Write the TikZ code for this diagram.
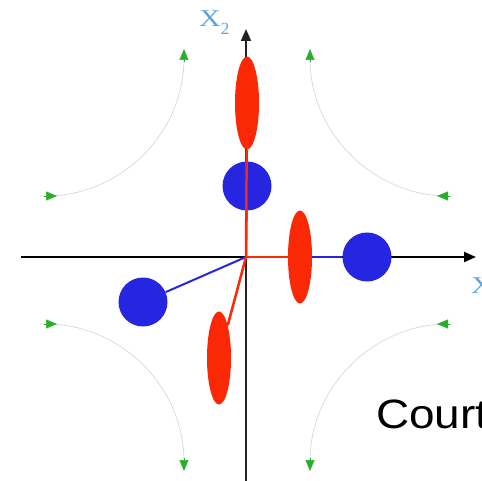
\documentclass[tikz,border=0pt]{standalone}
\usepackage{fontspec}
\newfontfamily\arialf{Liberation Sans}
\newfontfamily\timesf{Liberation Serif}
\usetikzlibrary{shapes.geometric,arrows.meta}
\definecolor{dotblue}{RGB}{38,38,226}
\definecolor{ellred}{RGB}{250,40,5}
\definecolor{flowgreen}{RGB}{40,175,45}
\definecolor{flowline}{RGB}{212,224,212}
\definecolor{labelblue}{RGB}{90,165,225}
\definecolor{axisgray}{RGB}{35,35,35}
\begin{document}
\begin{tikzpicture}[x=1pt,y=-1pt,
  bdot/.style={circle,fill=dotblue,draw=none,minimum size=49pt,inner sep=0pt},
  rell/.style={ellipse,fill=ellred,draw=none,minimum width=24pt,minimum height=93pt,inner sep=0pt},
  axisline/.style={line width=2pt,-{Triangle[length=12pt,width=10pt]}},
  flow/.style={flowline,line width=0.8pt},
  ftip/.style={flowgreen,line width=0.5pt,-{Triangle[length=11pt,width=9pt]}},
  bline/.style={dotblue,line width=2pt},
  rline/.style={ellred,line width=2.5pt},
  axlabel/.style={anchor=base west,inner sep=0pt,text=labelblue,font=\timesf\fontsize{24}{24}\selectfont}]
\useasboundingbox (0,0) rectangle (482,481);
\clip (0,0) rectangle (482,481);
% axes
\coordinate (O) at (246,257);
\coordinate (xs) at (21,257);
\coordinate (xe) at (476,257);
\coordinate (ys) at (246,482);
\coordinate (ye) at (246,29);
\draw[axisline,black] (xs) -- (xe);
\draw[axisline,axisgray] (ys) -- (ye);
% flow lines
\foreach \sx/\sy in {-1/-1,1/-1,-1/1,1/1}{
  \draw[flow] ({247+\sx*207},{260+\sy*64}) -- ({247+\sx*197},{260+\sy*64})
    .. controls ({247+\sx*127},{260+\sy*66}) and ({247+\sx*64},{260+\sy*125}) .. ({247+\sx*63},{260+\sy*200});
  \draw[ftip] ({247+\sx*203},{260+\sy*64}) -- ({247+\sx*190},{260+\sy*64});
  \draw[ftip] ({247+\sx*63},{260+\sy*198}) -- ({247+\sx*63},{260+\sy*211});
}
% blue
\node[bdot] (bt) at (247,186) {};
\node[bdot] (br) at (367,257) {};
\node[bdot] (bl) at (143,302) {};
\draw[bline] (O) -- (br);
\draw[bline] (O) -- (bl);
\draw[bline] (O) -- (bt);
% red
\node[rell] (rt) at (247,103) {};
\node[rell] (rr) at (300,257) {};
\node[rell] (rb) at (219,358) {};
\draw[rline] (O) -- (rt);
\draw[rline] (O) -- (rr);
\draw[rline] (O) -- (rb);
% labels
\node[axlabel] (x2) at (199,27) {\scalebox{1.25}[1]{X}\raisebox{-8pt}{\fontsize{17}{17}\selectfont 2}};
\node[axlabel] (x1) at (471,294) {\scalebox{1.25}[1]{X}\raisebox{-8pt}{\fontsize{17}{17}\selectfont 1}};
\node[anchor=base west,inner sep=0pt,font=\arialf\fontsize{41}{41}\selectfont] (court) at (376,428) {\scalebox{1.12}[1]{Court}};
\end{tikzpicture}
\end{document}
